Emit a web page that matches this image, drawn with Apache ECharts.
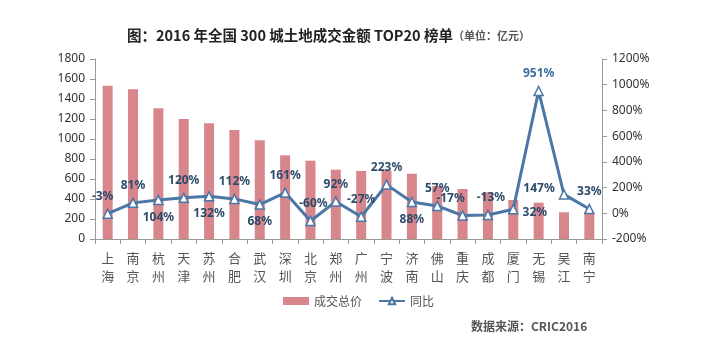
<!DOCTYPE html>
<html>
<head>
<meta charset="utf-8">
<script src="https://cdn.jsdelivr.net/npm/echarts@6/dist/echarts.min.js"></script>
<style>html,body{margin:0;padding:0;background:#fff;}#c{width:709px;height:359px;}</style>
</head>
<body>
<div id="c"></div>
<script>
const cities = ['上海','南京','杭州','天津','苏州','合肥','武汉','深圳','北京','郑州','广州','宁波','济南','佛山','重庆','成都','厦门','无锡','吴江','南宁'];
const totals = [1533, 1497, 1307, 1200, 1157, 1090, 987, 837, 783, 693, 680, 685, 653, 530, 500, 467, 390, 363, 267, 268];
const yoy = [-3, 81, 104, 120, 132, 112, 68, 161, -60, 92, -27, 223, 88, 57, -17, -13, 32, 951, 147, 33];
const leftTicks = [0, 1800, 200];
const rightTicks = [-200, 1200, 200];
const labelPlace = ['top','top','bottom','top','bottom','top','bottom','top','top','top','top','top','bottom','top','top','top','right','top','left','top'];

const FONT = '"Noto Sans CJK SC", "Noto Sans", sans-serif';
const chart = echarts.init(document.getElementById('c'));
const lineData = yoy.map((v, i) => {
  const p = labelPlace[i];
  const lab = {position: p};
  if (i === 0) { lab.offset = [-5, 0]; }
  if (i === 8) { lab.offset = [3, 0]; }
  if (i === 14) { lab.offset = [-12, 0]; }
  if (i === 15) { lab.offset = [3, 0]; }
  if (i === 16) { lab.offset = [-2, 3]; }
  if (i === 18) { lab.offset = [2, -6]; }
  if (i === 17) { lab.color = '#3d6e9e'; }
  return {value: v, label: lab};
});
chart.setOption({
  animation: false,
  textStyle: {fontFamily: FONT},
  title: {
    left: 122, top: 23,
    text: '{a|图：2016 年全国 300 城土地成交金额 TOP20 榜单}{b|（单位：亿元）}',
    textStyle: {
      rich: {
        a: {fontSize: 14.5, fontWeight: 'bold', color: '#222', fontFamily: FONT},
        b: {fontSize: 11, color: '#555', fontFamily: FONT, padding: [2, 0, 0, 0]}
      }
    }
  },
  legend: {
    left: 278, top: 290,
    itemGap: 16,
    itemWidth: 26, itemHeight: 8,
    textStyle: {fontSize: 12, color: '#555', fontFamily: FONT},
    data: [{name: '成交总价', icon: 'rect'}, {name: '同比'}]
  },
  graphic: [{
    type: 'text', left: 471, top: 320,
    style: {text: '数据来源：CRIC2016', fontSize: 12, fontWeight: 'bold', fill: '#555', fontFamily: FONT}
  }],
  grid: {left: 95, right: 107, top: 59, bottom: 120},
  xAxis: {
    type: 'category',
    data: cities,
    boundaryGap: true,
    axisLine: {lineStyle: {color: '#999'}},
    axisTick: {show: true, alignWithLabel: false, length: 5, lineStyle: {color: '#999'}},
    axisLabel: {
      interval: 0, color: '#555', fontSize: 13, lineHeight: 18, margin: 10,
      formatter: v => v.split('').join('\n')
    }
  },
  yAxis: [{
    type: 'value', min: leftTicks[0], max: leftTicks[1], interval: leftTicks[2],
    axisLine: {show: true, lineStyle: {color: '#999'}},
    axisTick: {show: true, length: 5, lineStyle: {color: '#999'}},
    splitLine: {show: false},
    axisLabel: {color: '#333', fontSize: 12, margin: 10, formatter: v => String(v), fontFamily: '"Noto Sans", sans-serif'}
  }, {
    type: 'value', min: rightTicks[0], max: rightTicks[1], interval: rightTicks[2],
    axisLine: {show: true, lineStyle: {color: '#999'}},
    axisTick: {show: true, length: 5, lineStyle: {color: '#999'}},
    splitLine: {show: false},
    axisLabel: {color: '#333', fontSize: 12, margin: 10, formatter: v => v + '%', fontFamily: '"Noto Sans", sans-serif'}
  }],
  series: [{
    name: '成交总价', type: 'bar', data: totals, barWidth: 10,
    itemStyle: {color: '#d7868c'}
  }, {
    name: '同比', type: 'line', yAxisIndex: 1, data: lineData,
    symbol: 'triangle', symbolSize: 9,
    lineStyle: {color: '#4a77a5', width: 3},
    itemStyle: {color: '#fff', borderColor: '#4a77a5', borderWidth: 1.5},
    label: {
      show: true, formatter: p => p.value + '%',
      color: '#2c4b6b', fontSize: 12, fontWeight: 'bold', fontFamily: '"Noto Sans", sans-serif', distance: 6
    }
  }]
});
</script>
</body>
</html>
